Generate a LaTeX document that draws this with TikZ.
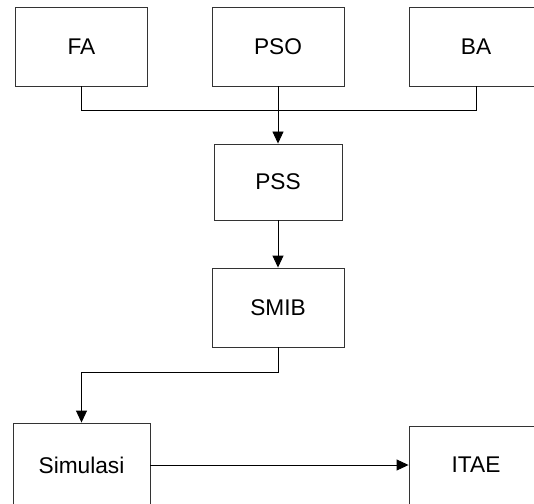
\documentclass[tikz,border=0pt]{standalone}
\usepackage{fontspec}
\setmainfont{Liberation Sans}
\usetikzlibrary{arrows.meta}
\begin{document}
\begin{tikzpicture}[x=1bp,y=-1bp,
  blk/.style={draw=black!80, line width=0.9bp, rectangle, inner sep=0pt,
    font=\fontsize{22.7bp}{27bp}\selectfont},
  wire/.style={draw=black, line width=0.9bp},
  arr/.style={wire, -{Triangle[length=12bp,width=11bp]}}]
\useasboundingbox (0,0) rectangle (534,504);
\node[blk, minimum width=132bp, minimum height=79bp] (FA) at (81.5,46.5) {FA};
\node[blk, minimum width=132bp, minimum height=79bp] (PSO) at (278,46.5) {PSO};
\node[blk, minimum width=134bp, minimum height=79bp] (BA) at (476,46.5) {BA};
\node[blk, minimum width=128bp, minimum height=76bp] (PSS) at (278,182) {PSS};
\node[blk, minimum width=132bp, minimum height=79bp] (SMIB) at (278,307.5) {SMIB};
\node[blk, minimum width=137bp, minimum height=84bp] (Sim) at (81.5,465) {Simulasi};
\node[blk, minimum width=134bp, minimum height=78bp] (ITAE) at (476,465) {ITAE};
\coordinate (jl) at (81.5,110);
\coordinate (jr) at (476,110);
\coordinate (bend) at (278,372);
\draw[wire] (FA.south) -- (jl) -- (jr) -- (BA.south);
\draw[arr] (PSO.south) -- (PSS.north);
\draw[arr] (PSS.south) -- (SMIB.north);
\draw[arr] (SMIB.south) -- (bend) -| (Sim.north);
\draw[arr] (Sim.east) -- (ITAE.west);
\end{tikzpicture}
\end{document}
